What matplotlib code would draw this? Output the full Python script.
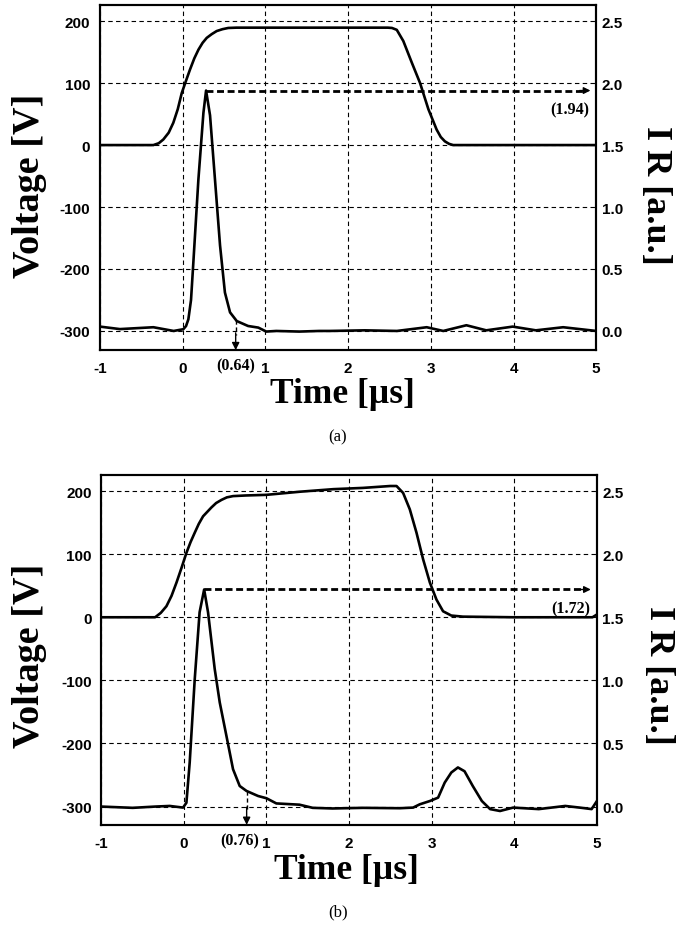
import numpy as np
import matplotlib
matplotlib.use("Agg")
from matplotlib import pyplot as plt
from matplotlib import transforms

plt.rcParams["axes.unicode_minus"] = False

# ---- data ----
# panel (a): voltage [V] vs time [us]
t_volt_a = [-1.0, -0.355, -0.29, -0.235, -0.17, -0.114, -0.06, -0.012, 0.04,
            0.088, 0.14, 0.19, 0.24, 0.29, 0.35, 0.41, 0.48, 0.55, 0.65, 1.0,
            1.5, 2.0, 2.48, 2.53, 2.588, 2.667, 2.77, 2.87, 2.97, 3.07, 3.12,
            3.17, 3.22, 3.27, 3.35, 4.0, 5.0]
volt_a = [0, 0, 3, 9, 20, 36, 58, 84, 104,
          122, 140, 154, 165, 173, 179, 184, 187, 189, 189.5, 189.5,
          189.5, 189.5, 189.5, 189, 186, 168, 133, 100, 58, 25, 13,
          6, 2, 0, 0, 0, 0]
# panel (a): IR [a.u.] vs time [us]
t_ir_a = [-1.0, -0.76, -0.355, -0.11, 0.007, 0.04, 0.068, 0.1, 0.128, 0.189,
          0.25, 0.282, 0.33, 0.39, 0.451, 0.51, 0.572, 0.653, 0.79, 0.914, 1.01,
          1.13, 1.41, 1.65, 1.78, 2.2, 2.59, 2.95, 3.15, 3.43, 3.67, 3.99, 4.27,
          4.6, 5.0]
ir_a = [0.035, 0.015, 0.03, 0.0, 0.014, 0.04, 0.094, 0.25, 0.55, 1.22,
        1.76, 1.94, 1.74, 1.22, 0.69, 0.31, 0.15, 0.08, 0.04, 0.027, -0.005,
        0.0, -0.005, 0.0, 0.0, 0.005, 0.0, 0.03, 0.0, 0.046, 0.005, 0.035, 0.005,
        0.03, 0.0]

# panel (b): voltage [V] vs time [us]
t_volt_b = [-1.0, -0.35, -0.333, -0.28, -0.212, -0.15, -0.09, -0.03, 0.03,
            0.08, 0.131, 0.18, 0.232, 0.333, 0.39, 0.455, 0.52, 0.595, 0.75,
            1.0, 1.41, 1.81, 2.17, 2.5, 2.576, 2.656, 2.737, 2.818, 2.898, 2.98,
            3.06, 3.14, 3.24, 3.38, 4.0, 4.59, 4.95, 5.0]
volt_b = [0, 0, 1.6, 7, 17.5, 34, 55, 78, 102,
          119, 134, 148, 160, 174, 181, 186, 190, 192, 193,
          194, 199, 203, 205, 208, 208, 197, 171, 134, 92, 55,
          28, 9.5, 2.7, 1, 0, 0, 0, 4]
# panel (b): IR [a.u.] vs time [us]
t_ir_b = [-1.0, -0.62, -0.35, -0.172, -0.011, 0.03, 0.07, 0.131, 0.19, 0.245,
          0.292, 0.373, 0.434, 0.515, 0.595, 0.676, 0.758, 0.898, 1.0, 1.12,
          1.40, 1.56, 1.80, 2.17, 2.616, 2.777, 2.858, 2.98, 3.08, 3.16, 3.24,
          3.32, 3.40, 3.50, 3.61, 3.71, 3.83, 3.99, 4.30, 4.62, 4.82, 4.94, 5.0]
ir_b = [0.0, -0.01, 0.0, 0.005, -0.008, 0.03, 0.35, 1.01, 1.54, 1.72,
        1.54, 1.09, 0.825, 0.56, 0.296, 0.163, 0.124, 0.084, 0.066, 0.025,
        0.015, -0.01, -0.015, -0.01, -0.013, -0.008, 0.018, 0.044, 0.071, 0.19, 0.27,
        0.31, 0.28, 0.163, 0.044, -0.02, -0.035, -0.008, -0.02, 0.005, -0.01, -0.02, 0.04]

x_ticks = [-1, 0, 1, 2, 3, 4, 5]
volt_ticks = [-300, -200, -100, 0, 100, 200]
ir_ticks = [0.0, 0.5, 1.0, 1.5, 2.0, 2.5]

# markers: (peak time, peak IR), (decay time, IR at decay time)
peak_a = (0.282, 1.94)
decay_a = (0.64, 0.085)
peak_b = (0.245, 1.72)
decay_b = (0.76, 0.12)

SERIF = "Liberation Serif"
SANS = "Liberation Sans"


def volt_to_ir(v):
    return (v + 300.0) / 200.0


def draw_panel(ax, t_v, v, t_ir, ir, ylim, peak, decay, dlabel_x, caption, cap_y,
               xl_pos, vl_pos, il_pos):
    ax.plot(t_v, v, color="k", lw=1.9, zorder=3)
    ax.set_xlim(-1, 5)
    ax.set_ylim(*ylim)
    ax.set_xticks(x_ticks)
    ax.set_yticks(volt_ticks)
    ax.grid(True, color="k", lw=0.8, linestyle=(0, (4, 3)))
    ax.tick_params(length=0, labelsize=11)
    ax.tick_params(axis="x", pad=8)
    ax.tick_params(axis="y", pad=7)
    for lab in ax.get_xticklabels() + ax.get_yticklabels():
        lab.set_fontfamily(SANS)
        lab.set_fontweight("bold")
    for sp in ax.spines.values():
        sp.set_linewidth(1.5)

    ax2 = ax.twinx()
    ax2.set_ylim(volt_to_ir(ylim[0]), volt_to_ir(ylim[1]))
    ax2.set_yticks(ir_ticks)
    ax2.set_yticklabels(["%.1f" % x for x in ir_ticks], fontfamily=SANS,
                        fontweight="bold", fontsize=11)
    ax2.tick_params(length=0, pad=4)
    ax2.plot(t_ir, ir, color="k", lw=1.9, zorder=3)
    for sp in ax2.spines.values():
        sp.set_linewidth(1.5)

    # horizontal dashed arrow from the IR peak
    ax2.plot([peak[0], 4.85], [peak[1], peak[1]], color="k", lw=2,
             linestyle=(0, (2.5, 1.3)))
    ax2.annotate("", xy=(4.93, peak[1]), xytext=(4.8, peak[1]),
                 arrowprops=dict(arrowstyle="-|>", color="k", lw=1,
                                 mutation_scale=10, shrinkA=0, shrinkB=0))
    ax2.text(4.92, peak[1] - 0.09, "(%.2f)" % peak[1], ha="right", va="top",
             fontfamily=SERIF, fontweight="bold", fontsize=11.5)

    # vertical dashed arrow at the decay time
    ymin = ax2.get_ylim()[0]
    ax2.plot([decay[0], decay[0]], [decay[1], ymin + 0.12], color="k", lw=1,
             linestyle=(0, (3, 2)))
    ax2.annotate("", xy=(decay[0], ymin), xytext=(decay[0], ymin + 0.14),
                 arrowprops=dict(arrowstyle="-|>", color="k", lw=1,
                                 mutation_scale=11, shrinkA=0, shrinkB=0))
    trans = transforms.blended_transform_factory(ax.transData, ax.transAxes)
    ax.text(dlabel_x, -0.045, "(%.2f)" % decay[0], transform=trans, ha="center",
            va="center", fontfamily=SERIF, fontweight="bold", fontsize=11.5)

    # axis labels
    ax.text(xl_pos[0], xl_pos[1], "Time [\u00b5s]", transform=ax.transAxes,
            ha="center", va="center", fontfamily=SERIF, fontweight="bold",
            fontsize=25.5)
    ax.text(vl_pos[0], vl_pos[1], "Voltage [V]", transform=ax.transAxes,
            ha="center", va="center", rotation=90, fontfamily=SERIF,
            fontweight="bold", fontsize=27.5)
    ax.text(il_pos[0], il_pos[1], "I R [a.u.]", transform=ax.transAxes,
            ha="center", va="center", rotation=270, fontfamily=SERIF,
            fontweight="bold", fontsize=26)
    ax.figure.text(0.5, cap_y, caption, ha="center", va="center",
                   fontfamily=SERIF, fontsize=12)
    return ax2


fig = plt.figure(figsize=(6.76, 9.29), dpi=100)
ax_a = fig.add_axes([0.148, 0.622, 0.734, 0.3715])
ax_b = fig.add_axes([0.150, 0.111, 0.7325, 0.377])

draw_panel(ax_a, t_volt_a, volt_a, t_ir_a, ir_a, (-331, 226), peak_a, decay_a,
           0.64, "(a)", 1 - 437 / 929, (0.488, -0.125), (-0.142, 0.48),
           (1.12, 0.45))
draw_panel(ax_b, t_volt_b, volt_b, t_ir_b, ir_b, (-329, 226), peak_b, decay_b,
           0.67, "(b)", 1 - 912 / 929, (0.495, -0.127), (-0.146, 0.485),
           (1.125, 0.43))

fig.savefig("out.png", dpi=100, facecolor="white")
